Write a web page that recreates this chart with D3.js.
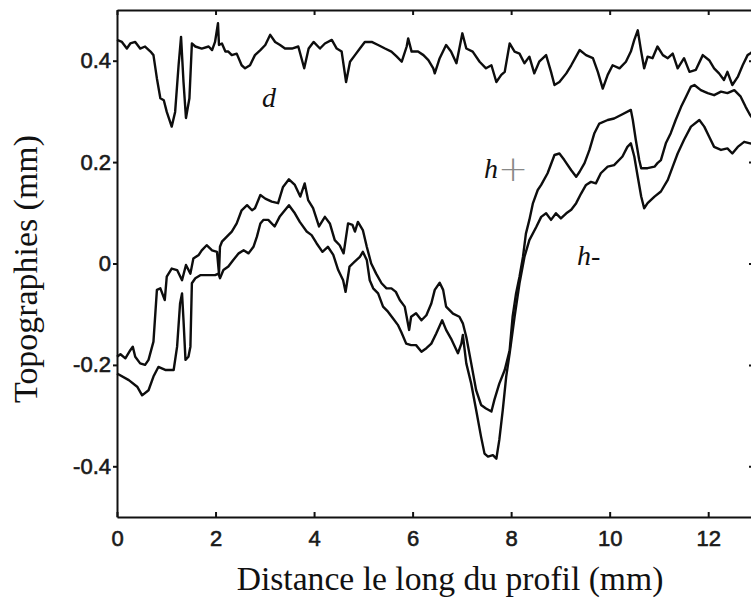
<!DOCTYPE html>
<html lang="fr">
<head>
<meta charset="UTF-8">
<title>Topographies le long du profil</title>
<script src="https://d3js.org/d3.v7.min.js"></script>
<style>
  body { margin: 0; background: #fff; }
  svg { display: block; }
  .tick text { font-family: "Liberation Sans", Arial, sans-serif; font-size: 22px; fill: #1a1a1a; stroke: #1a1a1a; stroke-width: 0.6px; }
  .axis path, .axis line { stroke: #111; stroke-width: 2; }
  .profile { fill: none; stroke: #0d0d0d; stroke-width: 2.4; stroke-linejoin: round; }
  .title { font-family: "Liberation Serif", "DejaVu Serif", serif; fill: #111; }
  .lbl { font-family: "Liberation Serif", "DejaVu Serif", serif; font-size: 28px; fill: #111; }
</style>
</head>
<body>
<svg id="chart" width="751" height="603"></svg>
<script>
// ticks
const xTicks = [0, 2, 4, 6, 8, 10, 12];
const yTicks = [-0.4, -0.2, 0, 0.2, 0.4];
const yTickLabels = ["-0.4", "-0.2", "0", "0.2", "0.4"];

// profil d (ouverture), [distance mm, hauteur mm]
const dProfile = [
  [0,0.441],[0.10,0.437],[0.20,0.424],[0.27,0.434],[0.37,0.437],[0.47,0.424],[0.57,0.428],[0.68,0.418],
  [0.74,0.411],[0.81,0.365],[0.88,0.326],[0.95,0.322],[1.01,0.299],[1.11,0.270],[1.18,0.299],[1.25,0.391],
  [1.30,0.447],[1.35,0.358],[1.40,0.287],[1.47,0.326],[1.52,0.434],[1.59,0.428],[1.72,0.424],[1.86,0.428],
  [1.93,0.421],[1.99,0.437],[2.05,0.474],[2.07,0.431],[2.13,0.434],[2.20,0.418],[2.26,0.418],[2.33,0.411],
  [2.43,0.414],[2.53,0.391],[2.60,0.385],[2.70,0.391],[2.80,0.411],[2.91,0.421],[3.01,0.431],[3.11,0.451],
  [3.21,0.437],[3.31,0.431],[3.41,0.424],[3.55,0.424],[3.68,0.428],[3.80,0.385],[3.89,0.424],[3.99,0.437],
  [4.12,0.424],[4.22,0.434],[4.36,0.441],[4.46,0.424],[4.56,0.418],[4.65,0.358],[4.73,0.398],[4.83,0.411],
  [4.93,0.424],[5.03,0.437],[5.17,0.437],[5.30,0.431],[5.44,0.424],[5.57,0.418],[5.68,0.408],[5.78,0.398],
  [5.88,0.428],[5.91,0.444],[5.98,0.418],[6.11,0.418],[6.22,0.411],[6.32,0.401],[6.42,0.385],[6.45,0.375],
  [6.55,0.405],[6.68,0.431],[6.78,0.418],[6.89,0.395],[7.01,0.454],[7.09,0.424],[7.22,0.418],[7.36,0.398],
  [7.49,0.385],[7.60,0.391],[7.70,0.358],[7.80,0.372],[7.87,0.378],[7.97,0.434],[8.07,0.418],[8.17,0.414],
  [8.27,0.395],[8.37,0.408],[8.47,0.375],[8.57,0.398],[8.71,0.411],[8.81,0.378],[8.88,0.352],[8.98,0.358],
  [9.12,0.375],[9.22,0.391],[9.39,0.421],[9.52,0.411],[9.66,0.405],[9.76,0.378],[9.86,0.345],[9.96,0.372],
  [10.06,0.391],[10.20,0.385],[10.33,0.398],[10.43,0.418],[10.50,0.441],[10.57,0.460],[10.64,0.418],[10.70,0.385],
  [10.77,0.408],[10.87,0.405],[10.97,0.428],[11.08,0.411],[11.18,0.405],[11.28,0.414],[11.38,0.385],[11.51,0.405],
  [11.62,0.378],[11.75,0.382],[11.89,0.411],[12.02,0.401],[12.12,0.385],[12.22,0.375],[12.32,0.362],[12.39,0.378],
  [12.49,0.352],[12.60,0.368],[12.70,0.391],[12.80,0.411],[12.85,0.414],[12.95,0.422]
];

// profil h+ (courbe du haut)
const hPlus = [
  [0,-0.184],[0.07,-0.179],[0.17,-0.187],[0.27,-0.171],[0.32,-0.164],[0.37,-0.184],[0.47,-0.197],[0.57,-0.200],
  [0.64,-0.190],[0.74,-0.154],[0.81,-0.052],[0.88,-0.049],[0.97,-0.072],[1.01,-0.026],[1.11,-0.010],[1.22,-0.013],
  [1.32,-0.033],[1.40,-0.003],[1.49,-0.020],[1.55,0.010],[1.66,0.017],[1.72,0.026],[1.82,0.036],[1.93,0.026],
  [2.03,0.023],[2.07,-0.020],[2.09,0.033],[2.13,0.043],[2.23,0.053],[2.33,0.063],[2.43,0.079],[2.53,0.105],
  [2.64,0.115],[2.74,0.105],[2.80,0.109],[2.91,0.135],[3.01,0.128],[3.14,0.122],[3.27,0.119],[3.37,0.151],
  [3.49,0.166],[3.61,0.155],[3.72,0.132],[3.81,0.158],[3.88,0.125],[3.98,0.109],[4.10,0.073],[4.22,0.092],
  [4.32,0.079],[4.42,0.046],[4.52,0.036],[4.60,0.020],[4.69,0.079],[4.78,0.076],[4.83,0.063],[4.89,0.082],
  [4.99,0.066],[5.07,0.033],[5.16,0.000],[5.26,-0.020],[5.37,-0.039],[5.47,-0.049],[5.57,-0.049],[5.66,-0.056],
  [5.74,-0.072],[5.84,-0.085],[5.93,-0.131],[5.97,-0.105],[6.07,-0.098],[6.18,-0.112],[6.28,-0.102],[6.38,-0.079],
  [6.45,-0.052],[6.55,-0.038],[6.62,-0.052],[6.68,-0.085],[6.82,-0.099],[6.95,-0.105],[7.02,-0.118],[7.09,-0.145],
  [7.19,-0.197],[7.29,-0.250],[7.39,-0.279],[7.49,-0.286],[7.60,-0.292],[7.66,-0.269],[7.76,-0.237],[7.87,-0.210],
  [7.97,-0.171],[8.03,-0.105],[8.10,-0.059],[8.17,-0.026],[8.24,0.013],[8.30,0.059],[8.37,0.086],[8.44,0.118],
  [8.54,0.145],[8.61,0.155],[8.74,0.178],[8.88,0.214],[8.98,0.217],[9.08,0.204],[9.22,0.184],[9.32,0.171],
  [9.39,0.181],[9.49,0.198],[9.59,0.224],[9.69,0.257],[9.79,0.276],[9.96,0.283],[10.09,0.286],[10.23,0.293],
  [10.43,0.303],[10.47,0.283],[10.53,0.244],[10.60,0.204],[10.64,0.188],[10.77,0.188],[10.91,0.191],[10.97,0.198],
  [11.04,0.204],[11.14,0.237],[11.24,0.257],[11.34,0.283],[11.45,0.309],[11.55,0.329],[11.65,0.349],[11.72,0.352],
  [11.85,0.342],[11.99,0.336],[12.12,0.332],[12.26,0.339],[12.39,0.336],[12.53,0.342],[12.66,0.329],[12.76,0.309],
  [12.85,0.293],[12.95,0.280]
];

// profil h- (courbe du bas)
const hMinus = [
  [0,-0.217],[0.24,-0.230],[0.41,-0.243],[0.51,-0.260],[0.64,-0.250],[0.74,-0.223],[0.84,-0.204],[0.98,-0.210],
  [1.15,-0.210],[1.22,-0.164],[1.28,-0.079],[1.32,-0.059],[1.35,-0.112],[1.39,-0.190],[1.45,-0.184],[1.49,-0.164],
  [1.52,-0.039],[1.59,-0.029],[1.69,-0.023],[1.86,-0.023],[1.99,-0.023],[2.06,-0.020],[2.09,-0.029],[2.16,-0.013],
  [2.26,-0.006],[2.36,0.007],[2.47,0.020],[2.57,0.026],[2.67,0.020],[2.77,0.033],[2.84,0.053],[2.91,0.079],
  [2.97,0.086],[3.07,0.086],[3.20,0.073],[3.30,0.092],[3.49,0.115],[3.61,0.099],[3.71,0.082],[3.85,0.063],
  [3.95,0.056],[4.05,0.040],[4.17,0.023],[4.28,0.033],[4.39,0.017],[4.49,-0.013],[4.59,-0.033],[4.64,-0.056],
  [4.72,-0.006],[4.83,0.004],[4.93,0.013],[4.99,0.023],[5.07,0.007],[5.13,-0.033],[5.20,-0.049],[5.30,-0.059],
  [5.40,-0.085],[5.50,-0.095],[5.60,-0.108],[5.70,-0.121],[5.77,-0.135],[5.87,-0.158],[5.97,-0.161],[6.07,-0.161],
  [6.18,-0.174],[6.28,-0.167],[6.38,-0.158],[6.48,-0.138],[6.60,-0.112],[6.68,-0.131],[6.78,-0.148],[6.92,-0.177],
  [6.99,-0.158],[7.02,-0.141],[7.09,-0.197],[7.19,-0.237],[7.29,-0.289],[7.39,-0.342],[7.46,-0.375],[7.53,-0.381],
  [7.63,-0.378],[7.70,-0.385],[7.76,-0.348],[7.83,-0.289],[7.90,-0.223],[7.97,-0.177],[8.07,-0.105],[8.17,-0.039],
  [8.27,0.013],[8.37,0.046],[8.51,0.072],[8.61,0.092],[8.71,0.099],[8.81,0.086],[8.91,0.099],[9.01,0.089],
  [9.12,0.099],[9.22,0.106],[9.32,0.119],[9.42,0.138],[9.52,0.155],[9.62,0.161],[9.72,0.158],[9.82,0.178],
  [9.96,0.191],[10.09,0.194],[10.26,0.211],[10.36,0.230],[10.43,0.237],[10.50,0.211],[10.57,0.171],[10.64,0.132],
  [10.70,0.109],[10.77,0.119],[10.91,0.132],[11.04,0.142],[11.18,0.165],[11.28,0.191],[11.38,0.217],[11.51,0.244],
  [11.65,0.270],[11.82,0.283],[11.92,0.270],[12.02,0.250],[12.12,0.230],[12.26,0.224],[12.39,0.227],[12.49,0.217],
  [12.60,0.230],[12.73,0.240],[12.85,0.237],[12.95,0.235]
];

const svg = d3.select("#chart");
const x = d3.scaleLinear().domain([0, 12.95]).range([117, 755]);
const y = d3.scaleLinear().domain([-0.5, 0.5]).range([517, 10]);

// axes (cadre)
svg.append("g").attr("class", "axis")
  .attr("transform", "translate(0,517)")
  .call(d3.axisBottom(x).tickValues(xTicks).tickFormat(d3.format("d"))
    .tickSizeInner(-5).tickSizeOuter(0).tickPadding(13));
svg.append("g").attr("class", "axis")
  .attr("transform", "translate(0,10)")
  .call(d3.axisTop(x).tickValues(xTicks).tickFormat("")
    .tickSizeInner(-5).tickSizeOuter(0));
svg.append("g").attr("class", "axis")
  .attr("transform", "translate(117,0)")
  .call(d3.axisLeft(y).tickValues(yTicks).tickFormat((d, i) => yTickLabels[i])
    .tickSizeInner(4).tickSizeOuter(0).tickPadding(2));
svg.append("g").attr("class", "axis")
  .attr("transform", "translate(755,0)")
  .call(d3.axisRight(y).tickValues(yTicks).tickFormat("")
    .tickSizeInner(-6).tickSizeOuter(0));

// courbes
const line = d3.line().x(d => x(d[0])).y(d => y(d[1]));
[dProfile, hPlus, hMinus].forEach(s => {
  svg.append("path").attr("class", "profile").attr("d", line(s));
});

// étiquettes des courbes
svg.append("text").attr("class", "lbl").attr("x", 262).attr("y", 107)
  .style("font-style", "italic").text("d");
const hp = svg.append("text").attr("class", "lbl").attr("x", 484).attr("y", 178);
hp.append("tspan").style("font-style", "italic").text("h");
hp.append("tspan").attr("dy", 3).style("fill", "#888").style("font-size", "36px")
  .style("font-family", "DejaVu Sans").style("font-weight", "200").text("+");
const hm = svg.append("text").attr("class", "lbl").attr("x", 577).attr("y", 265);
hm.append("tspan").style("font-style", "italic").text("h");
hm.append("tspan").text("-");

// titres des axes
function fitText(sel, width) {
  const w = sel.node().getComputedTextLength();
  const fs = parseFloat(sel.style("font-size"));
  sel.style("font-size", (fs * width / w) + "px");
}
const xt = svg.append("text").attr("class", "title")
  .attr("x", 450).attr("y", 590).attr("text-anchor", "middle")
  .style("font-size", "27px").text("Distance le long du profil (mm)");
fitText(xt, 427);
const yt = svg.append("text").attr("class", "title")
  .attr("transform", "translate(37,269) rotate(-90)").attr("text-anchor", "middle")
  .style("font-size", "27px").text("Topographies (mm)");
fitText(yt, 268);
</script>
</body>
</html>
